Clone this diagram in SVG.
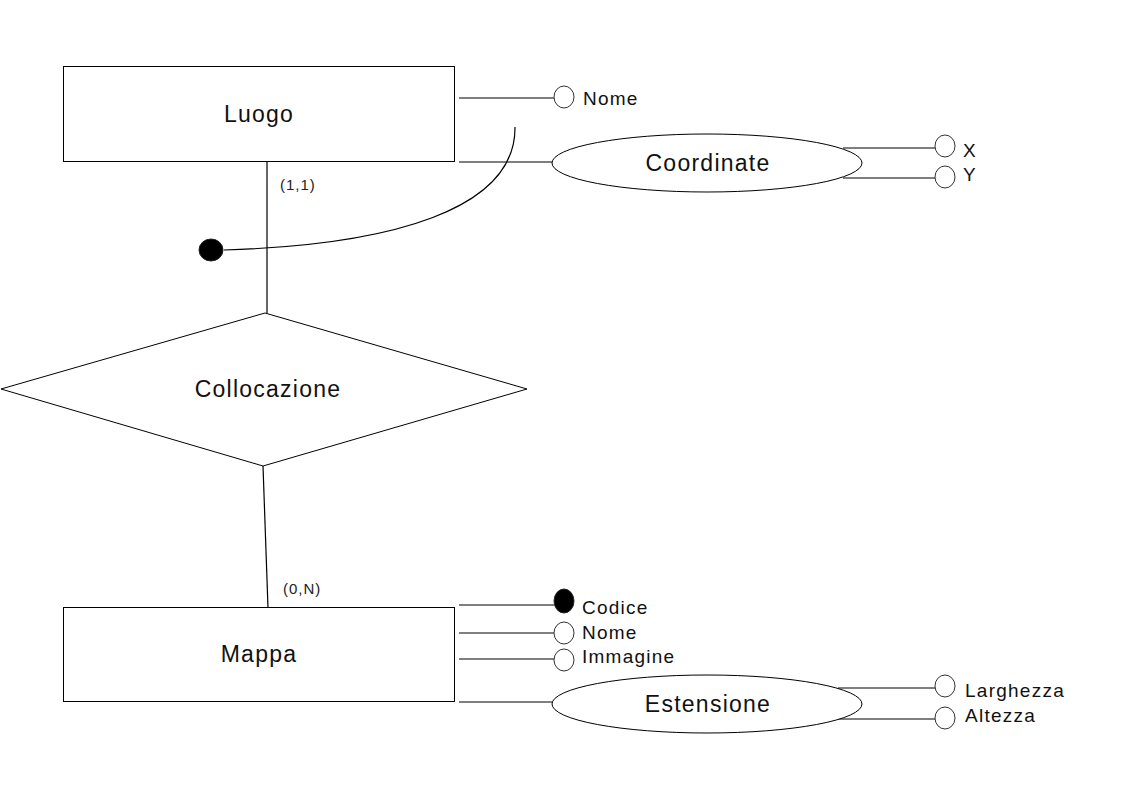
<svg xmlns="http://www.w3.org/2000/svg" width="1123" height="794" viewBox="0 0 1123 794">
<style>
.s{fill:none;stroke:#000;stroke-width:1.2}
.w{fill:#fff;stroke:#000;stroke-width:1}
.a{fill:#fff;stroke:#333;stroke-width:1}
.k{fill:#000;stroke:#222;stroke-width:1}
.t{font-family:"Liberation Sans",Arial,sans-serif;fill:#111;letter-spacing:1.25px}
.big{font-size:23px;text-anchor:middle}
.med{font-size:19px}
.sm{font-size:15px;fill:#222;letter-spacing:1px}
</style>
<rect width="1123" height="794" fill="#fff"/>
<g id="connectors">
<line class="s" x1="459" y1="98" x2="554" y2="98"/>
<line class="s" x1="459" y1="162" x2="552" y2="162"/>
<line class="s" x1="843" y1="148" x2="935" y2="148"/>
<line class="s" x1="843" y1="178" x2="935" y2="178"/>
<line class="s" x1="267" y1="161" x2="267" y2="313"/>
<path class="s" d="M515,127 C516,210 390,245 224,250" stroke-width="1"/>
<line class="s" x1="263" y1="466" x2="268" y2="608"/>
<line class="s" x1="459" y1="605" x2="554" y2="605"/>
<line class="s" x1="459" y1="633" x2="554" y2="633"/>
<line class="s" x1="459" y1="659" x2="554" y2="659"/>
<line class="s" x1="459" y1="702" x2="552" y2="702"/>
<line class="s" x1="838" y1="688" x2="935" y2="688"/>
<line class="s" x1="838" y1="719" x2="935" y2="719"/>
<text class="t sm" x="280" y="190">(1,1)</text>
<text class="t sm" x="283" y="594">(0,N)</text>
</g>
<g id="luogo">
<rect class="w" x="63.5" y="66.5" width="391" height="95" stroke-width="1.2"/>
<text class="t big" x="259" y="122">Luogo</text>
</g>
<g id="luogo-nome">
<ellipse class="a" cx="564" cy="97" rx="10" ry="11"/>
<text class="t med" x="583" y="105">Nome</text>
</g>
<g id="coordinate">
<ellipse class="w" cx="707" cy="163" rx="155" ry="29"/>
<text class="t big" x="708" y="171">Coordinate</text>
</g>
<g id="coord-x">
<ellipse class="a" cx="945" cy="146" rx="10" ry="11"/>
<text class="t med" x="963" y="157">X</text>
</g>
<g id="coord-y">
<ellipse class="a" cx="945" cy="177" rx="10" ry="11"/>
<text class="t med" x="963" y="181">Y</text>
</g>
<g id="identifier">
<ellipse class="k" cx="211" cy="250" rx="12" ry="11"/>
</g>
<g id="collocazione">
<polygon class="w" points="265,313 527,389 263,466 1,389"/>
<text class="t big" x="268" y="397">Collocazione</text>
</g>
<g id="mappa">
<rect class="w" x="63.5" y="607.5" width="391" height="94" stroke-width="1.2"/>
<text class="t big" x="259" y="662">Mappa</text>
</g>
<g id="mappa-codice">
<ellipse class="k" cx="564" cy="601" rx="10" ry="12"/>
<text class="t med" x="582" y="614">Codice</text>
</g>
<g id="mappa-nome">
<ellipse class="a" cx="564" cy="633" rx="10" ry="11"/>
<text class="t med" x="582" y="639">Nome</text>
</g>
<g id="mappa-immagine">
<ellipse class="a" cx="564" cy="660" rx="10" ry="11"/>
<text class="t med" x="582" y="663">Immagine</text>
</g>
<g id="estensione">
<ellipse class="w" cx="707" cy="704" rx="155" ry="29"/>
<text class="t big" x="708" y="712">Estensione</text>
</g>
<g id="est-larghezza">
<ellipse class="a" cx="945" cy="686" rx="10" ry="11"/>
<text class="t med" x="965" y="697">Larghezza</text>
</g>
<g id="est-altezza">
<ellipse class="a" cx="945" cy="718" rx="10" ry="11"/>
<text class="t med" x="965" y="722">Altezza</text>
</g>
</svg>
